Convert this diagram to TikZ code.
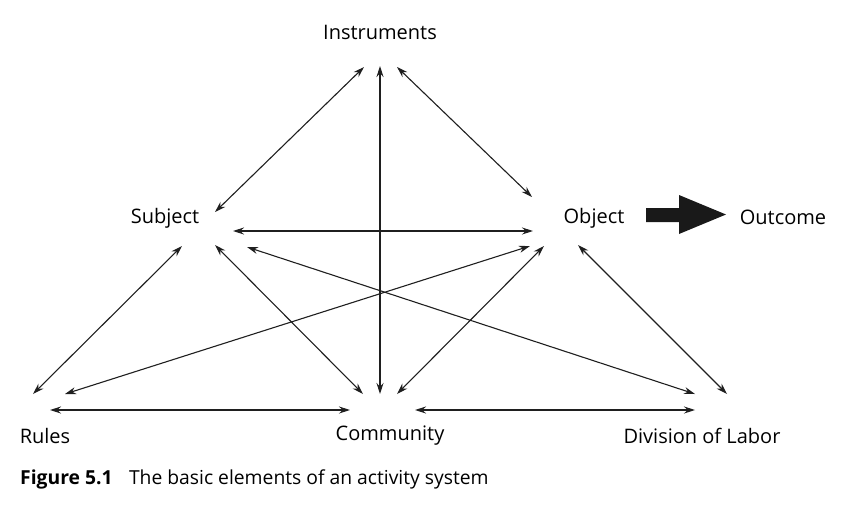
\documentclass[tikz,border=0pt]{standalone}
\usepackage{fontspec}
\setmainfont{Open Sans}
\usetikzlibrary{arrows.meta}
\begin{document}
\begin{tikzpicture}[x=1pt,y=-1pt,
  lbl/.style={font=\fontsize{20}{24}\selectfont, text=black, inner sep=0pt},
  link/.style={line width=1.1pt, black!88, {Stealth[length=11pt,width=7pt]}-{Stealth[length=11pt,width=7pt]}}]
\useasboundingbox (0,0) rectangle (845,517);
% labels
\node[lbl] (instr) at (380,32) {Instruments};
\node[lbl] (subj) at (165,218) {Subject};
\node[lbl] (obj) at (594,218) {Object};
\node[lbl] (out) at (783,217) {Outcome};
\node[lbl] (rules) at (45,436) {Rules};
\node[lbl] (comm) at (390,436) {Community};
\node[lbl] (div) at (702,436) {Division of Labor};
\node[anchor=base west, inner sep=0pt, font=\fontsize{19.3}{23}\selectfont, text=black] (cap) at (20,484)
  {\textbf{Figure 5.1}\hspace{0.85em}The basic elements of an activity system};
% endpoints
\coordinate (iL) at (364,67);
\coordinate (iM) at (380,66);
\coordinate (iR) at (397,67);
\coordinate (sUR) at (215,212);
\coordinate (sR) at (233,231);
\coordinate (sLR) at (247,247);
\coordinate (sBM) at (215,245);
\coordinate (sBL) at (182,246);
\coordinate (oUL) at (532,197);
\coordinate (oL) at (533,231);
\coordinate (oBL) at (530,246);
\coordinate (oBM) at (544,246);
\coordinate (oBR) at (578,245);
\coordinate (rU) at (33,394);
\coordinate (rR) at (65,394);
\coordinate (rH) at (50,410);
\coordinate (cUL) at (363,394);
\coordinate (cU) at (380,394);
\coordinate (cUR) at (397,394);
\coordinate (cHL) at (350,410);
\coordinate (cHR) at (415,410);
\coordinate (dUL) at (695,394);
\coordinate (dU) at (727,394);
\coordinate (dH) at (695,410);
% connectors
\draw[link] (iL) -- (sUR);
\draw[link] (iM) -- (cU);
\draw[link] (iR) -- (oUL);
\draw[link] (sR) -- (oL);
\draw[link] (sLR) -- (dUL);
\draw[link] (sBM) -- (cUL);
\draw[link] (sBL) -- (rU);
\draw[link] (rR) -- (oBL);
\draw[link] (cUR) -- (oBM);
\draw[link] (oBR) -- (dU);
\draw[link] (rH) -- (cHL);
\draw[link] (cHR) -- (dH);
% big arrow
\fill[black!90] (646,208) -- (679,208) -- (679,195) -- (726,214.5) -- (679,234) -- (679,222) -- (646,222) -- cycle;
\end{tikzpicture}
\end{document}
